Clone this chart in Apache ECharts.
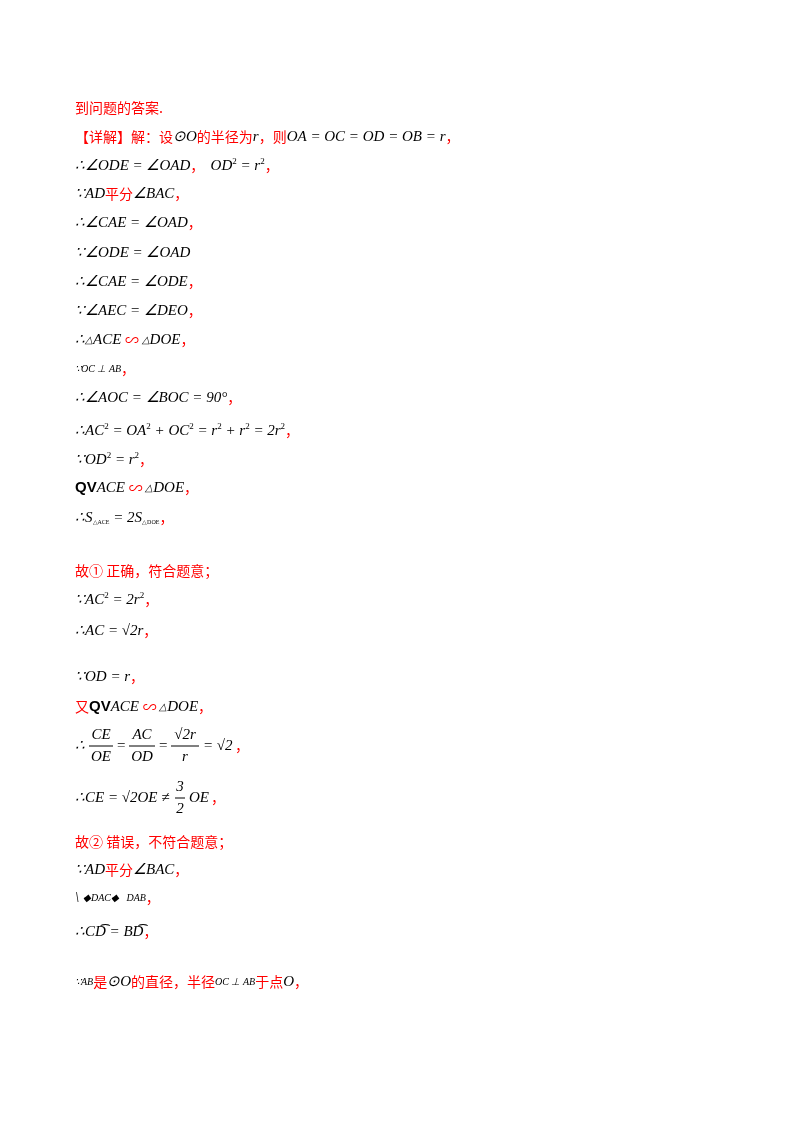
<!DOCTYPE html>
<html><head><meta charset="utf-8">
<script src="https://cdn.jsdelivr.net/npm/echarts@6/dist/echarts.min.js"></script>
<style>html,body{margin:0;background:#fff}#c{width:800px;height:1132px}</style>
</head><body><div id="c"></div>
<script>
// text lines: {r|...} red Chinese, {m|...} black italic math, {s|...} superscript, {b|...} subscript
const lines = [
 '{r|到问题的答案.}',
 '{r|【详解】解：设}{m|⊙O}{r|的半径为}{m|r}{r|，则}{m|OA = OC = OD = OB = r}{r|，}',
 '{m|∴∠ODE = ∠OAD}{r|，  }{m|OD}{s|2}{m| = r}{s|2}{r|，}',
 '{m|∵AD}{r|平分}{m|∠BAC}{r|，}',
 '{m|∴∠CAE = ∠OAD}{r|，}',
 '{m|∵∠ODE = ∠OAD}',
 '{m|∴∠CAE = ∠ODE}{r|，}',
 '{m|∵∠AEC = ∠DEO}{r|，}',
 '{m|∴}{t|△}{m|ACE }{r|∽}{t| △}{m|DOE}{r|，}',
 '{t|∵OC ⊥ AB}{r|，}',
 '{m|∴∠AOC = ∠BOC = 90°}{r|，}',
 '{m|∴AC}{s|2}{m| = OA}{s|2}{m| + OC}{s|2}{m| = r}{s|2}{m| + r}{s|2}{m| = 2r}{s|2}{r|，}',
 '{m|∵OD}{s|2}{m| = r}{s|2}{r|，}',
 '{q|QV}{m|ACE }{r|∽}{t| △}{m|DOE}{r|，}',
 '{m|∴S}{b|△ACE}{m| = 2S}{b|△DOE}{r|，}',
 '{r|故① 正确，符合题意；}',
 '{m|∵AC}{s|2}{m| = 2r}{s|2}{r|，}',
 '{m|∴AC = √2r}{r|，}',
 '{m|∵OD = r}{r|，}',
 '{r|又}{q|QV}{m|ACE }{r|∽}{t| △}{m|DOE}{r|，}',
 'FRAC1',
 'FRAC2',
 '{r|故② 错误，不符合题意；}',
 '{m|∵AD}{r|平分}{m|∠BAC}{r|，}',
 '{m|\\ }{t|◆DAC◆   DAB}{r|，}',
 '{m|∴CD͡ = BD͡}{r|，}',
 '{t|∵AB}{r|是}{m|⊙O}{r|的直径，半径}{t|OC ⊥ AB}{r|于点}{m|O}{r|，}'
];
const lineY = [108,137,166,194,223,253,282,311,340,369,398,431,460,488,518,571,600,631,677,707,746,798,842,870,898,932,982];
const rich = {
 r:{fill:'#ff0000',fontFamily:'Noto Sans CJK SC',fontSize:14},
 m:{fill:'#000',fontFamily:'Liberation Serif',fontStyle:'italic',fontSize:15},
 t:{fill:'#000',fontFamily:'Liberation Serif',fontStyle:'italic',fontSize:10},
 q:{fill:'#000',fontFamily:'Liberation Sans',fontWeight:'bold',fontSize:15},
 s:{fill:'#000',fontFamily:'Liberation Serif',fontSize:9,verticalAlign:'top',padding:[0,0,8,0]},
 b:{fill:'#000',fontFamily:'Liberation Serif',fontSize:6,verticalAlign:'bottom',padding:[8,0,0,0]}
};
const X = 75;
const g = [];
function txt(x,y,t,st){return {type:'text',x:x,y:y,style:Object.assign({text:t,verticalAlign:'middle',fill:'#000',fontFamily:'Liberation Serif',fontStyle:'italic',fontSize:15},st||{})};}
function frac(x,y,n,d,w){
 g.push(txt(x+w/2,y-11,n,{align:'center'}));
 g.push(txt(x+w/2,y+11,d,{align:'center'}));
 g.push({type:'line',shape:{x1:x,y1:y,x2:x+w,y2:y},style:{stroke:'#000',lineWidth:1}});
}
lines.forEach((s,i)=>{
 const y=lineY[i];
 if(s==='FRAC1'){
  g.push(txt(X,y,'∴'));frac(X+14,y,'CE','OE',24);g.push(txt(X+42,y,'=',{fontStyle:'normal'}));
  frac(X+54,y,'AC','OD',26);g.push(txt(X+84,y,'=',{fontStyle:'normal'}));
  frac(X+96,y,'√2r','r',28);g.push(txt(X+128,y,'= √2'));g.push(txt(X+160,y,'，',{fill:'#f00',fontFamily:'Noto Sans CJK SC',fontStyle:'normal',fontSize:14}));
 } else if(s==='FRAC2'){
  g.push(txt(X,y,'∴CE = √2OE ≠'));frac(X+100,y,'3','2',10);g.push(txt(X+114,y,'OE'));
  g.push(txt(X+136,y,'，',{fill:'#f00',fontFamily:'Noto Sans CJK SC',fontStyle:'normal',fontSize:14}));
 } else {
  g.push({type:'text',x:X,y:y,style:{text:s,rich:rich,verticalAlign:'middle'}});
 }
});
const chart = echarts.init(document.getElementById('c'));
chart.setOption({backgroundColor:'#fff',graphic:g});
</script></body></html>
